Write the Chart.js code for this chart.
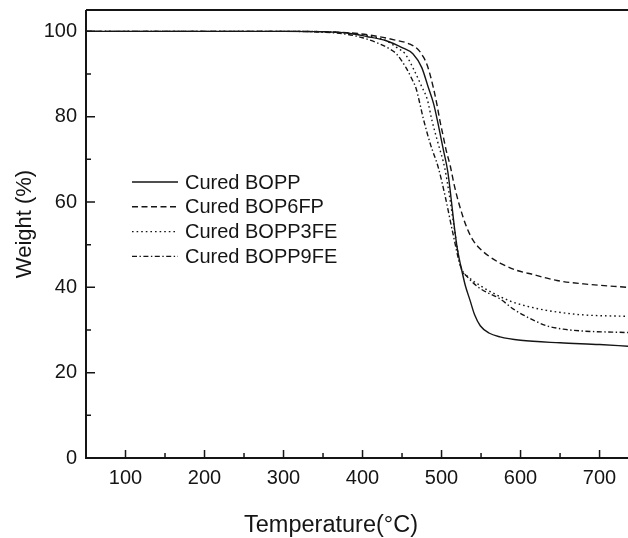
<!DOCTYPE html>
<html>
<head>
<meta charset="utf-8">
<script src="https://cdn.jsdelivr.net/npm/chart.js@4"></script>
<style>
  html, body { margin: 0; padding: 0; background: #fff; }
  #wrap { width: 628px; height: 538px; }
</style>
</head>
<body>
<div id="wrap"><canvas id="tga" width="628" height="538"></canvas></div>
<script>
// TGA curves: temperature (C) and weight (%)
const seriesNames = ['Cured BOPP', 'Cured BOP6FP', 'Cured BOPP3FE', 'Cured BOPP9FE'];

const boppT = [50, 300, 350, 380, 405, 430, 450, 464, 475, 483, 490, 496, 502, 508, 512, 516, 520, 525, 530, 536, 542, 549, 560, 574, 600, 650, 700, 736];
const boppW = [100, 100, 99.9, 99.6, 98.8, 97.8, 96.2, 94.7, 91.5, 87, 83, 78, 72.5, 67, 61, 54.5, 49, 44.5, 40.5, 37, 33.5, 31, 29.3, 28.4, 27.6, 27, 26.6, 26.2];

const bop6fpT = [50, 300, 380, 410, 440, 460, 470, 477, 482, 486, 490, 494, 498, 502, 506, 511, 516, 523, 532, 540, 549, 560, 574, 595, 616, 646, 680, 736];
const bop6fpW = [100, 100, 99.7, 99.1, 98, 97, 95.8, 94, 92, 89.5, 86.5, 83, 79, 75.5, 72, 68.5, 64, 59, 54, 51, 49, 47.3, 45.7, 44, 43, 41.6, 40.8, 40];

const bopp3feT = [50, 300, 350, 380, 410, 430, 445, 454, 465, 475, 482, 488, 496, 504, 510, 516, 524, 535, 549, 570, 591, 612, 633, 675, 736];
const bopp3feW = [100, 100, 99.9, 99.6, 98.8, 97.8, 96, 94.7, 91, 87, 84, 79, 73.5, 68, 61.5, 54, 45, 42.3, 40.4, 38.2, 36.5, 35.4, 34.6, 33.6, 33.2];

const bopp9feT = [50, 300, 350, 380, 400, 420, 435, 443, 455, 462, 468, 472, 477, 486, 496, 505, 514, 524, 535, 549, 574, 591, 612, 633, 654, 675, 736];
const bopp9feW = [100, 100, 99.8, 99.3, 98.5, 97.2, 95.8, 94.7, 91.5, 89, 86.5, 83.5, 79.5, 73.5, 68, 61, 53, 45, 42, 39.7, 37.3, 34.9, 32.7, 31, 30.2, 29.8, 29.4];

const xTicks = [100, 200, 300, 400, 500, 600, 700];
const xMinor = [150, 250, 350, 450, 550, 650];
const yTicks = [0, 20, 40, 60, 80, 100];
const yMinor = [10, 30, 50, 70, 90];

const FONT = '"Liberation Sans", Arial, sans-serif';
const INK = '#151515';

function pts(t, w) {
  return t.map((v, i) => ({ x: v, y: w[i] }));
}

function lineSet(label, t, w, dash) {
  return {
    label: label,
    data: pts(t, w),
    borderColor: INK,
    borderWidth: 1.4,
    borderDash: dash,
    pointRadius: 0,
    fill: false,
    cubicInterpolationMode: 'monotone'
  };
}

// axes frame + inward ticks, like the origin-style plot
const frame = {
  id: 'frame',
  afterDraw(chart) {
    const ctx = chart.ctx;
    const a = chart.chartArea;
    const xs = chart.scales.x, ys = chart.scales.y;
    ctx.save();
    ctx.strokeStyle = INK;
    ctx.lineWidth = 2;
    ctx.beginPath();
    ctx.moveTo(a.left, a.top); ctx.lineTo(a.right, a.top);
    ctx.moveTo(a.left, a.top); ctx.lineTo(a.left, a.bottom);
    ctx.moveTo(a.left - 1, a.bottom); ctx.lineTo(a.right, a.bottom);
    ctx.stroke();
    ctx.lineWidth = 1.5;
    ctx.beginPath();
    xTicks.forEach(v => { const p = xs.getPixelForValue(v); ctx.moveTo(p, a.bottom); ctx.lineTo(p, a.bottom - 8); });
    xMinor.forEach(v => { const p = xs.getPixelForValue(v); ctx.moveTo(p, a.bottom); ctx.lineTo(p, a.bottom - 5); });
    yTicks.forEach(v => { const p = ys.getPixelForValue(v); ctx.moveTo(a.left, p); ctx.lineTo(a.left + 9, p); });
    yMinor.forEach(v => { const p = ys.getPixelForValue(v); ctx.moveTo(a.left, p); ctx.lineTo(a.left + 5, p); });
    ctx.stroke();

    // axis titles
    ctx.fillStyle = INK;
    ctx.font = '23.5px ' + FONT;
    ctx.textAlign = 'center';
    ctx.textBaseline = 'alphabetic';
    ctx.fillText('Temperature(\u00B0C)', 331, 532);
    ctx.font = '22px ' + FONT;
    ctx.translate(31, 224);
    ctx.rotate(-Math.PI / 2);
    ctx.fillText('Weight (%)', 0, 0);
    ctx.restore();

    // legend inside the plot
    ctx.save();
    ctx.font = '20px ' + FONT;
    ctx.textBaseline = 'middle';
    ctx.textAlign = 'left';
    ctx.fillStyle = INK;
    chart.data.datasets.forEach((ds, i) => {
      const y = 182 + i * 24.8;
      ctx.strokeStyle = INK;
      ctx.lineWidth = 1.4;
      ctx.setLineDash(ds.borderDash || []);
      ctx.beginPath();
      ctx.moveTo(132, y); ctx.lineTo(178, y);
      ctx.stroke();
      ctx.setLineDash([]);
      ctx.fillText(ds.label, 185, y + 1);
    });
    ctx.restore();
  }
};

new Chart(document.getElementById('tga'), {
  type: 'line',
  data: {
    datasets: [
      lineSet(seriesNames[0], boppT, boppW, []),
      lineSet(seriesNames[1], bop6fpT, bop6fpW, [6, 3.5]),
      lineSet(seriesNames[2], bopp3feT, bopp3feW, [1.6, 3]),
      lineSet(seriesNames[3], bopp9feT, bopp9feW, [5, 2.5, 1.4, 2.5])
    ]
  },
  options: {
    responsive: false,
    animation: false,
    layout: { padding: { top: 10, right: 0, left: 0, bottom: 0 } },
    plugins: { legend: { display: false }, tooltip: { enabled: false } },
    scales: {
      x: {
        type: 'linear',
        min: 50,
        max: 736,
        grid: { display: false, drawTicks: false },
        border: { display: false },
        afterBuildTicks: s => { s.ticks = xTicks.map(v => ({ value: v })); },
        afterFit: s => { s.height = 80; s.paddingLeft = 0; s.paddingRight = 0; },
        ticks: { color: INK, font: { family: FONT, size: 20 }, padding: 8, maxRotation: 0 }
      },
      y: {
        min: 0,
        max: 105,
        grid: { display: false, drawTicks: false },
        border: { display: false },
        afterBuildTicks: s => { s.ticks = yTicks.map(v => ({ value: v })); },
        afterFit: s => { s.width = 86; s.paddingTop = 0; s.paddingBottom = 0; },
        ticks: { color: INK, font: { family: FONT, size: 20 }, padding: 9 }
      }
    }
  },
  plugins: [frame]
});
</script>
</body>
</html>
